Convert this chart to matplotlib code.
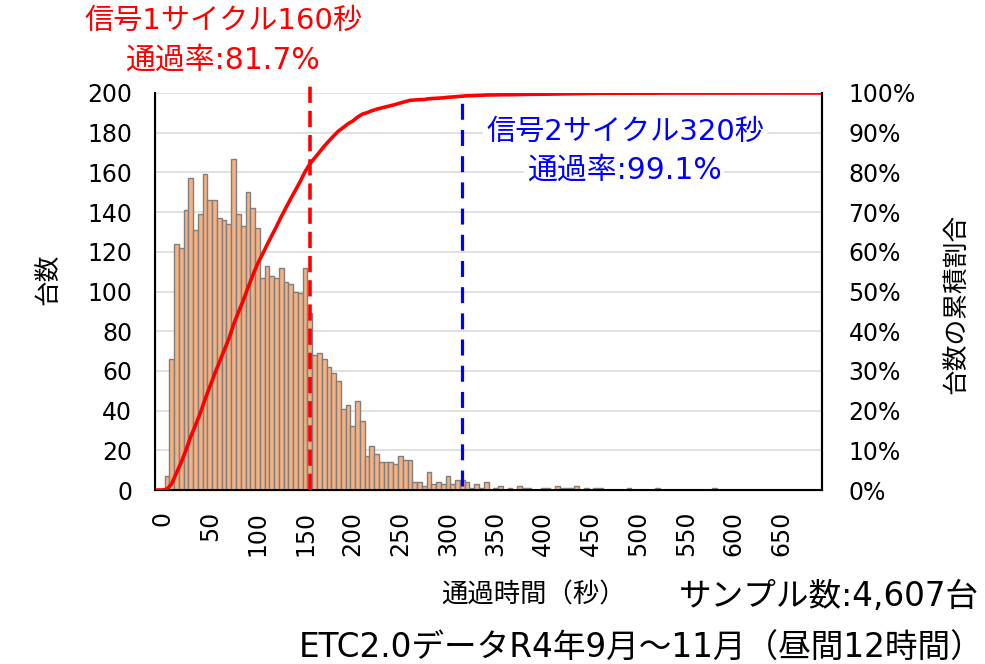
import numpy as np
import matplotlib.pyplot as plt

# Histogram: vehicles per 5-second class (class label = upper bound, 0..695 s)
bin_width = 5
counts = [
    0, 0, 7, 66, 124, 122, 141, 157, 131, 139,        # 0-45
    159, 146, 146, 137, 136, 134, 167, 139, 133, 150,  # 50-95
    142, 132, 107, 113, 108, 107, 112, 105, 104, 100,  # 100-145
    99, 112, 89, 68, 69, 66, 62, 59, 55, 41,           # 150-195
    43, 32, 45, 35, 17, 22, 18, 14, 14, 14,            # 200-245
    13, 17, 15, 15, 4, 4, 2, 9, 3, 4,                  # 250-295
    3, 7, 3, 5, 5, 4, 1, 3, 1, 4,                      # 300-345
    0, 1, 2, 0, 1, 0, 2, 1, 1, 0,                      # 350-395
    0, 1, 1, 0, 2, 1, 1, 1, 2, 0,                      # 400-445
    1, 0, 1, 1, 0, 0, 0, 0, 0, 1,                      # 450-495
    0, 0, 0, 0, 0, 1, 0, 0, 0, 0,                      # 500-545
    0, 0, 0, 0, 0, 0, 0, 1, 0, 0,                      # 550-595
    0, 0, 0, 0, 0, 0, 0, 0, 0, 0,                      # 600-645
    0, 0, 0, 0, 0, 0, 0, 0, 0, 0,                      # 650-695
]
class_labels = list(range(0, 700, bin_width))
tick_labels = list(range(0, 700, 50))

cycle1 = 160
cycle2 = 320
sample_total = "4,607"

counts = np.array(counts)
idx = np.arange(len(counts))
cum_share = np.cumsum(counts) / counts.sum()

W, H = 985, 664
fig = plt.figure(figsize=(W / 100, H / 100), dpi=100)
ax = fig.add_axes([155 / W, 1 - 490 / H, (822 - 155) / W, (490 - 93) / H])
ax2 = ax.twinx()

jp = ['Noto Sans CJK JP', 'DejaVu Sans']
mix = ['DejaVu Sans', 'Noto Sans CJK JP']
num_font = 17

ax.bar(idx, counts, width=1.0, color='#F4B183', edgecolor='#7F7F7F',
       linewidth=1.0, zorder=2)
ax.set_xlim(-0.5, len(counts) - 0.5)
ax.set_ylim(0, 200)
ax.set_yticks(range(0, 201, 20))
ax.yaxis.grid(True, color='#D9D9D9', linewidth=1.1, zorder=0)
ax.set_axisbelow(True)

# labels sit one class to the right in the original layout
tick_pos = [class_labels.index(t) + 1 for t in tick_labels]
ax.set_xticks(tick_pos)
ax.set_xticklabels([str(t) for t in tick_labels], rotation=90,
                   fontsize=num_font, va='top')
ax.tick_params(axis='x', length=0, pad=15)
ax.tick_params(axis='y', length=0, pad=16.5, labelsize=num_font)

for s in ['top']:
    ax.spines[s].set_visible(False)
    ax2.spines[s].set_visible(False)
for s in ['left', 'bottom', 'right']:
    ax.spines[s].set_color('black')
    ax.spines[s].set_linewidth(1.5)
ax2.spines['right'].set_linewidth(1.5)

ax2.plot(idx, cum_share, color='#FF0000', linewidth=2.6, zorder=5,
         solid_joinstyle='round')
ax2.set_ylim(0, 1)
ax2.set_yticks(np.arange(0, 1.01, 0.1))
ax2.set_yticklabels([f"{int(round(v * 100))}%" for v in np.arange(0, 1.01, 0.1)],
                    fontsize=num_font)
ax2.tick_params(axis='y', length=0, pad=19)

# cycle markers
ax.plot([cycle1 / bin_width] * 2, [0, 1.02], color='#FF0000', linewidth=2.6,
        linestyle=(0, (4.5, 2.2)), transform=ax.get_xaxis_transform(),
        clip_on=False, zorder=4)
ax.plot([cycle2 / bin_width] * 2, [0.01, 0.99], color='#0000FF', linewidth=2.3,
        linestyle=(0, (5, 3.2)), transform=ax.get_xaxis_transform(),
        clip_on=False, zorder=4)

ax.set_ylabel('台数', family=jp, fontsize=18.5, labelpad=0)
ax.yaxis.set_label_coords(-94 / (822 - 155), 0.53)
ax2.set_ylabel('台数の累積割合', family=jp, fontsize=18.5, rotation=90, labelpad=0)
ax2.yaxis.set_label_coords(1 + 121 / (822 - 155), 0.47)


def px(x, y):
    return x / W, 1 - y / H


fig.text(*px(223, 21), f'信号1サイクル{cycle1}秒', color='#FF0000',
         family=mix, fontsize=21, ha='center', va='center')
fig.text(*px(222, 60), '通過率:81.7%', color='#FF0000',
         family=mix, fontsize=21.5, ha='center', va='center')
fig.text(*px(625, 132), f'信号2サイクル{cycle2}秒', color='#0000FF',
         family=mix, fontsize=21, ha='center', va='center', zorder=10,
         bbox=dict(facecolor='white', edgecolor='none', pad=2))
fig.text(*px(624, 170), '通過率:99.1%', color='#0000FF',
         family=mix, fontsize=21.5, ha='center', va='center', zorder=10,
         bbox=dict(facecolor='white', edgecolor='none', pad=2))

fig.text(*px(533, 595), '通過時間（秒）', family=jp, fontsize=19,
         ha='center', va='center')
fig.text(*px(979, 596), f'サンプル数:{sample_total}台', family=mix, fontsize=23.5,
         ha='right', va='center')
fig.text(*px(984, 648), 'ETC2.0データR4年9月～11月（昼間12時間）', family=mix,
         fontsize=23.5, ha='right', va='center')

fig.savefig('out.png', dpi=100)
